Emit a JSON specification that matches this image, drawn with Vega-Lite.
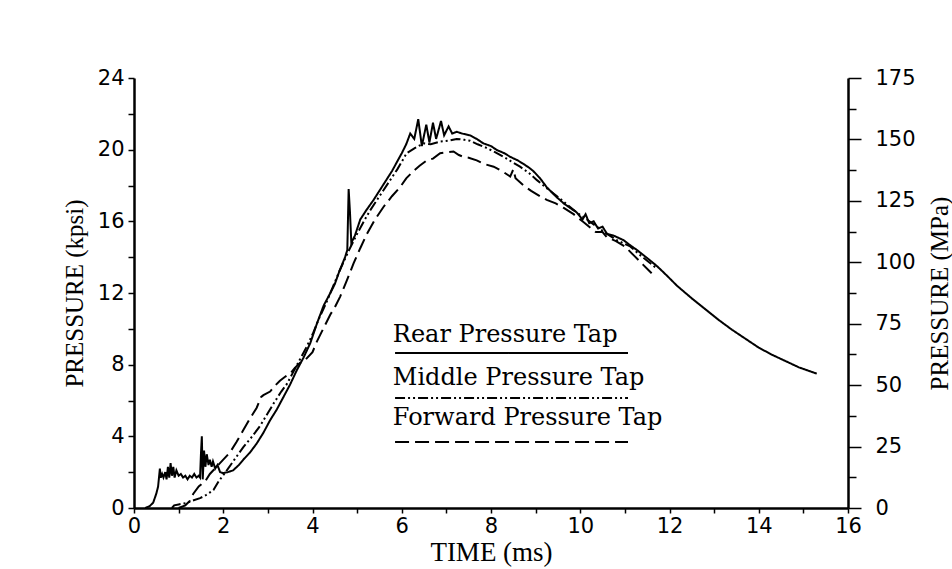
{
  "$schema": "https://vega.github.io/schema/vega-lite/v6.json",
  "width": 714,
  "height": 430,
  "autosize": {"type": "none"},
  "padding": {"left": 134, "top": 78, "right": 104, "bottom": 61},
  "background": "white",
  "config": {
    "view": {"stroke": null},
    "axis": {
      "grid": false,
      "domainColor": "black",
      "tickColor": "black",
      "labelColor": "black",
      "titleColor": "black",
      "labelFont": "DejaVu Sans",
      "labelFontSize": 21,
      "titleFont": "Liberation Serif",
      "titleFontSize": 25,
      "titleFontWeight": "normal",
      "domainWidth": 2.5,
      "tickWidth": 1.5,
      "labelOverlap": false,
      "labelFlush": false
    }
  },
  "datasets": {
    "curves": [
      {"s": "Rear", "t": 0.25, "p": 0},
      {"s": "Rear", "t": 0.35, "p": 0.1},
      {"s": "Rear", "t": 0.43, "p": 0.3},
      {"s": "Rear", "t": 0.5, "p": 0.8},
      {"s": "Rear", "t": 0.54, "p": 1.2},
      {"s": "Rear", "t": 0.58, "p": 2.2},
      {"s": "Rear", "t": 0.6, "p": 1.7},
      {"s": "Rear", "t": 0.63, "p": 1.9},
      {"s": "Rear", "t": 0.66, "p": 1.7},
      {"s": "Rear", "t": 0.7, "p": 2.0},
      {"s": "Rear", "t": 0.73, "p": 1.6},
      {"s": "Rear", "t": 0.76, "p": 2.3},
      {"s": "Rear", "t": 0.79, "p": 1.7},
      {"s": "Rear", "t": 0.82, "p": 2.5},
      {"s": "Rear", "t": 0.85, "p": 1.8},
      {"s": "Rear", "t": 0.88, "p": 2.3},
      {"s": "Rear", "t": 0.91, "p": 1.7},
      {"s": "Rear", "t": 0.95, "p": 2.1},
      {"s": "Rear", "t": 1.0, "p": 1.8},
      {"s": "Rear", "t": 1.05, "p": 1.9},
      {"s": "Rear", "t": 1.1, "p": 1.7},
      {"s": "Rear", "t": 1.15, "p": 1.8},
      {"s": "Rear", "t": 1.2, "p": 1.6},
      {"s": "Rear", "t": 1.25, "p": 1.8},
      {"s": "Rear", "t": 1.3, "p": 1.7},
      {"s": "Rear", "t": 1.35, "p": 1.9},
      {"s": "Rear", "t": 1.4, "p": 1.7},
      {"s": "Rear", "t": 1.45, "p": 1.8},
      {"s": "Rear", "t": 1.48, "p": 1.7},
      {"s": "Rear", "t": 1.5, "p": 3.0},
      {"s": "Rear", "t": 1.52, "p": 4.0},
      {"s": "Rear", "t": 1.54, "p": 1.6},
      {"s": "Rear", "t": 1.57, "p": 3.2},
      {"s": "Rear", "t": 1.6, "p": 2.3},
      {"s": "Rear", "t": 1.63, "p": 3.0},
      {"s": "Rear", "t": 1.67, "p": 2.4},
      {"s": "Rear", "t": 1.7, "p": 2.7},
      {"s": "Rear", "t": 1.74, "p": 2.3},
      {"s": "Rear", "t": 1.77, "p": 2.6},
      {"s": "Rear", "t": 1.82, "p": 2.2},
      {"s": "Rear", "t": 1.87, "p": 2.4},
      {"s": "Rear", "t": 1.93, "p": 2.0},
      {"s": "Rear", "t": 2.0, "p": 1.95},
      {"s": "Rear", "t": 2.1, "p": 2.0},
      {"s": "Rear", "t": 2.22, "p": 2.1},
      {"s": "Rear", "t": 2.35, "p": 2.4},
      {"s": "Rear", "t": 2.45, "p": 2.7},
      {"s": "Rear", "t": 2.6, "p": 3.1},
      {"s": "Rear", "t": 2.75, "p": 3.6},
      {"s": "Rear", "t": 2.9, "p": 4.2},
      {"s": "Rear", "t": 3.05, "p": 4.9},
      {"s": "Rear", "t": 3.2, "p": 5.5},
      {"s": "Rear", "t": 3.35, "p": 6.2},
      {"s": "Rear", "t": 3.5, "p": 6.9},
      {"s": "Rear", "t": 3.65, "p": 7.7},
      {"s": "Rear", "t": 3.8, "p": 8.4},
      {"s": "Rear", "t": 3.95, "p": 9.2},
      {"s": "Rear", "t": 4.1, "p": 10.3},
      {"s": "Rear", "t": 4.25, "p": 11.3},
      {"s": "Rear", "t": 4.4, "p": 12.0},
      {"s": "Rear", "t": 4.5, "p": 12.5},
      {"s": "Rear", "t": 4.6, "p": 13.2},
      {"s": "Rear", "t": 4.73, "p": 14.0},
      {"s": "Rear", "t": 4.78, "p": 14.4},
      {"s": "Rear", "t": 4.81, "p": 17.8},
      {"s": "Rear", "t": 4.84, "p": 16.5},
      {"s": "Rear", "t": 4.87, "p": 14.8},
      {"s": "Rear", "t": 4.95, "p": 15.2},
      {"s": "Rear", "t": 5.07, "p": 16.1},
      {"s": "Rear", "t": 5.2, "p": 16.6},
      {"s": "Rear", "t": 5.37, "p": 17.2},
      {"s": "Rear", "t": 5.55, "p": 17.9},
      {"s": "Rear", "t": 5.78, "p": 18.8},
      {"s": "Rear", "t": 6.0, "p": 19.8},
      {"s": "Rear", "t": 6.1, "p": 20.3},
      {"s": "Rear", "t": 6.19, "p": 20.9},
      {"s": "Rear", "t": 6.28, "p": 20.6},
      {"s": "Rear", "t": 6.37, "p": 21.7},
      {"s": "Rear", "t": 6.45, "p": 20.2},
      {"s": "Rear", "t": 6.55, "p": 21.4},
      {"s": "Rear", "t": 6.62, "p": 20.4},
      {"s": "Rear", "t": 6.7, "p": 21.5},
      {"s": "Rear", "t": 6.77, "p": 20.6},
      {"s": "Rear", "t": 6.88, "p": 21.6},
      {"s": "Rear", "t": 6.95, "p": 20.8},
      {"s": "Rear", "t": 7.05, "p": 21.3},
      {"s": "Rear", "t": 7.13, "p": 20.9},
      {"s": "Rear", "t": 7.23, "p": 21.0},
      {"s": "Rear", "t": 7.35, "p": 20.9},
      {"s": "Rear", "t": 7.53, "p": 20.8},
      {"s": "Rear", "t": 7.68, "p": 20.6},
      {"s": "Rear", "t": 7.83, "p": 20.35},
      {"s": "Rear", "t": 8.0, "p": 20.2},
      {"s": "Rear", "t": 8.13, "p": 19.98},
      {"s": "Rear", "t": 8.3, "p": 19.8},
      {"s": "Rear", "t": 8.43, "p": 19.6},
      {"s": "Rear", "t": 8.6, "p": 19.4},
      {"s": "Rear", "t": 8.73, "p": 19.2},
      {"s": "Rear", "t": 8.85, "p": 19.0},
      {"s": "Rear", "t": 8.95, "p": 18.8},
      {"s": "Rear", "t": 9.1, "p": 18.4},
      {"s": "Rear", "t": 9.25, "p": 17.9},
      {"s": "Rear", "t": 9.45, "p": 17.4},
      {"s": "Rear", "t": 9.63, "p": 17.0},
      {"s": "Rear", "t": 9.8, "p": 16.7},
      {"s": "Rear", "t": 9.92, "p": 16.5},
      {"s": "Rear", "t": 10.05, "p": 16.1},
      {"s": "Rear", "t": 10.12, "p": 16.4},
      {"s": "Rear", "t": 10.2, "p": 15.9},
      {"s": "Rear", "t": 10.3, "p": 16.0},
      {"s": "Rear", "t": 10.4, "p": 15.6},
      {"s": "Rear", "t": 10.5, "p": 15.7},
      {"s": "Rear", "t": 10.6, "p": 15.3},
      {"s": "Rear", "t": 10.75, "p": 15.2},
      {"s": "Rear", "t": 10.97, "p": 14.95},
      {"s": "Rear", "t": 11.1, "p": 14.7},
      {"s": "Rear", "t": 11.27, "p": 14.4},
      {"s": "Rear", "t": 11.5, "p": 13.95},
      {"s": "Rear", "t": 11.72, "p": 13.5},
      {"s": "Rear", "t": 11.95, "p": 12.95},
      {"s": "Rear", "t": 12.17, "p": 12.4},
      {"s": "Rear", "t": 12.5, "p": 11.7},
      {"s": "Rear", "t": 12.8, "p": 11.1},
      {"s": "Rear", "t": 13.1, "p": 10.5},
      {"s": "Rear", "t": 13.4, "p": 9.95},
      {"s": "Rear", "t": 13.7, "p": 9.45},
      {"s": "Rear", "t": 14.0, "p": 8.95},
      {"s": "Rear", "t": 14.3, "p": 8.55},
      {"s": "Rear", "t": 14.6, "p": 8.2},
      {"s": "Rear", "t": 14.9, "p": 7.85},
      {"s": "Rear", "t": 15.3, "p": 7.5},
      {"s": "Middle", "t": 0.85, "p": 0.0},
      {"s": "Middle", "t": 0.9, "p": 0.15},
      {"s": "Middle", "t": 1.0, "p": 0.2},
      {"s": "Middle", "t": 1.18, "p": 0.28},
      {"s": "Middle", "t": 1.3, "p": 0.4},
      {"s": "Middle", "t": 1.48, "p": 0.55},
      {"s": "Middle", "t": 1.6, "p": 0.7},
      {"s": "Middle", "t": 1.78, "p": 1.0},
      {"s": "Middle", "t": 1.9, "p": 1.5},
      {"s": "Middle", "t": 2.08, "p": 2.1},
      {"s": "Middle", "t": 2.25, "p": 2.7},
      {"s": "Middle", "t": 2.45, "p": 3.4},
      {"s": "Middle", "t": 2.65, "p": 4.0},
      {"s": "Middle", "t": 2.83, "p": 4.6},
      {"s": "Middle", "t": 3.0, "p": 5.3},
      {"s": "Middle", "t": 3.12, "p": 5.8},
      {"s": "Middle", "t": 3.3, "p": 6.5},
      {"s": "Middle", "t": 3.42, "p": 6.9},
      {"s": "Middle", "t": 3.55, "p": 7.5},
      {"s": "Middle", "t": 3.72, "p": 8.3},
      {"s": "Middle", "t": 3.87, "p": 9.0},
      {"s": "Middle", "t": 4.02, "p": 9.8},
      {"s": "Middle", "t": 4.15, "p": 10.6},
      {"s": "Middle", "t": 4.3, "p": 11.4},
      {"s": "Middle", "t": 4.45, "p": 12.3},
      {"s": "Middle", "t": 4.6, "p": 13.2},
      {"s": "Middle", "t": 4.8, "p": 14.3},
      {"s": "Middle", "t": 5.0, "p": 15.3},
      {"s": "Middle", "t": 5.15, "p": 16.0},
      {"s": "Middle", "t": 5.29, "p": 16.6},
      {"s": "Middle", "t": 5.5, "p": 17.4},
      {"s": "Middle", "t": 5.74, "p": 18.3},
      {"s": "Middle", "t": 5.9, "p": 18.9},
      {"s": "Middle", "t": 6.11, "p": 19.8},
      {"s": "Middle", "t": 6.3, "p": 20.1},
      {"s": "Middle", "t": 6.49, "p": 20.35},
      {"s": "Middle", "t": 6.65, "p": 20.3},
      {"s": "Middle", "t": 6.86, "p": 20.45},
      {"s": "Middle", "t": 7.05, "p": 20.5},
      {"s": "Middle", "t": 7.23, "p": 20.6},
      {"s": "Middle", "t": 7.4, "p": 20.55},
      {"s": "Middle", "t": 7.53, "p": 20.5},
      {"s": "Middle", "t": 7.7, "p": 20.3},
      {"s": "Middle", "t": 7.9, "p": 20.1},
      {"s": "Middle", "t": 8.1, "p": 19.85},
      {"s": "Middle", "t": 8.28, "p": 19.6},
      {"s": "Middle", "t": 8.45, "p": 19.35},
      {"s": "Middle", "t": 8.65, "p": 19.05},
      {"s": "Middle", "t": 8.85, "p": 18.7},
      {"s": "Middle", "t": 9.03, "p": 18.3},
      {"s": "Middle", "t": 9.25, "p": 17.85},
      {"s": "Middle", "t": 9.48, "p": 17.4},
      {"s": "Middle", "t": 9.7, "p": 16.95},
      {"s": "Middle", "t": 9.92, "p": 16.5},
      {"s": "Middle", "t": 10.15, "p": 16.1},
      {"s": "Middle", "t": 10.37, "p": 15.7},
      {"s": "Middle", "t": 10.6, "p": 15.3},
      {"s": "Middle", "t": 10.82, "p": 14.95},
      {"s": "Middle", "t": 11.12, "p": 14.6},
      {"s": "Middle", "t": 11.3, "p": 14.2},
      {"s": "Middle", "t": 11.5, "p": 13.8},
      {"s": "Middle", "t": 11.7, "p": 13.4},
      {"s": "Forward", "t": 1.0, "p": 0.0},
      {"s": "Forward", "t": 1.15, "p": 0.15},
      {"s": "Forward", "t": 1.25, "p": 0.4},
      {"s": "Forward", "t": 1.33, "p": 0.8},
      {"s": "Forward", "t": 1.45, "p": 1.2},
      {"s": "Forward", "t": 1.6, "p": 1.5},
      {"s": "Forward", "t": 1.7, "p": 1.9},
      {"s": "Forward", "t": 1.85, "p": 2.3},
      {"s": "Forward", "t": 2.0, "p": 2.7},
      {"s": "Forward", "t": 2.15, "p": 3.1},
      {"s": "Forward", "t": 2.3, "p": 3.7},
      {"s": "Forward", "t": 2.45, "p": 4.35},
      {"s": "Forward", "t": 2.6, "p": 5.0},
      {"s": "Forward", "t": 2.75, "p": 5.6},
      {"s": "Forward", "t": 2.85, "p": 6.2},
      {"s": "Forward", "t": 2.9, "p": 6.3},
      {"s": "Forward", "t": 3.05, "p": 6.5},
      {"s": "Forward", "t": 3.15, "p": 6.8},
      {"s": "Forward", "t": 3.27, "p": 7.1},
      {"s": "Forward", "t": 3.4, "p": 7.35},
      {"s": "Forward", "t": 3.5, "p": 7.5},
      {"s": "Forward", "t": 3.6, "p": 7.8},
      {"s": "Forward", "t": 3.72, "p": 8.1},
      {"s": "Forward", "t": 3.85, "p": 8.3},
      {"s": "Forward", "t": 4.0, "p": 8.7},
      {"s": "Forward", "t": 4.1, "p": 9.3},
      {"s": "Forward", "t": 4.2, "p": 9.8},
      {"s": "Forward", "t": 4.3, "p": 10.3},
      {"s": "Forward", "t": 4.4, "p": 10.8},
      {"s": "Forward", "t": 4.5, "p": 11.2},
      {"s": "Forward", "t": 4.62, "p": 11.8},
      {"s": "Forward", "t": 4.77, "p": 12.7},
      {"s": "Forward", "t": 4.92, "p": 13.65},
      {"s": "Forward", "t": 5.07, "p": 14.5},
      {"s": "Forward", "t": 5.22, "p": 15.3},
      {"s": "Forward", "t": 5.4, "p": 16.1},
      {"s": "Forward", "t": 5.59, "p": 16.8},
      {"s": "Forward", "t": 5.78, "p": 17.4},
      {"s": "Forward", "t": 5.96, "p": 17.9},
      {"s": "Forward", "t": 6.1, "p": 18.4},
      {"s": "Forward", "t": 6.26, "p": 18.8},
      {"s": "Forward", "t": 6.4, "p": 19.1},
      {"s": "Forward", "t": 6.56, "p": 19.4},
      {"s": "Forward", "t": 6.7, "p": 19.5},
      {"s": "Forward", "t": 6.86, "p": 19.8},
      {"s": "Forward", "t": 7.0, "p": 19.85},
      {"s": "Forward", "t": 7.16, "p": 19.9},
      {"s": "Forward", "t": 7.28, "p": 19.7},
      {"s": "Forward", "t": 7.38, "p": 19.6},
      {"s": "Forward", "t": 7.5, "p": 19.55},
      {"s": "Forward", "t": 7.68, "p": 19.4},
      {"s": "Forward", "t": 7.85, "p": 19.2},
      {"s": "Forward", "t": 8.06, "p": 19.05},
      {"s": "Forward", "t": 8.25, "p": 18.8},
      {"s": "Forward", "t": 8.43, "p": 18.5},
      {"s": "Forward", "t": 8.5, "p": 18.9},
      {"s": "Forward", "t": 8.55, "p": 18.4},
      {"s": "Forward", "t": 8.73, "p": 18.0},
      {"s": "Forward", "t": 8.9, "p": 17.7},
      {"s": "Forward", "t": 9.1, "p": 17.4},
      {"s": "Forward", "t": 9.25, "p": 17.2},
      {"s": "Forward", "t": 9.45, "p": 17.0},
      {"s": "Forward", "t": 9.63, "p": 16.75},
      {"s": "Forward", "t": 9.85, "p": 16.4},
      {"s": "Forward", "t": 10.05, "p": 16.0},
      {"s": "Forward", "t": 10.2, "p": 15.7},
      {"s": "Forward", "t": 10.35, "p": 15.4},
      {"s": "Forward", "t": 10.5, "p": 15.4},
      {"s": "Forward", "t": 10.6, "p": 15.1},
      {"s": "Forward", "t": 10.8, "p": 14.9},
      {"s": "Forward", "t": 11.0, "p": 14.6},
      {"s": "Forward", "t": 11.2, "p": 14.1},
      {"s": "Forward", "t": 11.4, "p": 13.6},
      {"s": "Forward", "t": 11.6, "p": 13.1}
    ],
    "legend": [
      {"s": "Rear", "label": "Rear Pressure Tap", "tx": 5.8, "ty": 9.27, "lx1": 5.85, "lx2": 11.07, "ly": 8.65},
      {"s": "Middle", "label": "Middle Pressure Tap", "tx": 5.8, "ty": 6.87, "lx1": 5.85, "lx2": 11.07, "ly": 6.14},
      {"s": "Forward", "label": "Forward Pressure Tap", "tx": 5.8, "ty": 4.63, "lx1": 5.85, "lx2": 11.07, "ly": 3.68}
    ]
  },
  "layer": [
    {
      "data": {"name": "curves"},
      "mark": {"type": "line", "color": "black", "strokeWidth": 2},
      "encoding": {
        "x": {
          "field": "t", "type": "quantitative",
          "scale": {"domain": [0, 16], "nice": false},
          "axis": {
            "values": [0,1,2,3,4,5,6,7,8,9,10,11,12,13,14,15,16],
            "labelExpr": "datum.value % 2 === 0 ? datum.label : ''",
            "tickSize": 5,
            "labelPadding": 2,
            "title": "TIME (ms)",
            "titleFontSize": 27,
            "titlePadding": 3
          }
        },
        "y": {
          "field": "p", "type": "quantitative",
          "scale": {"domain": [0, 24], "nice": false},
          "axis": {
            "orient": "left",
            "values": [0,2,4,6,8,10,12,14,16,18,20,22,24],
            "labelExpr": "datum.value % 4 === 0 ? datum.label : ''",
            "tickSize": 6,
            "labelPadding": 4,
            "title": "PRESSURE (kpsi)",
            "titlePadding": 10
          }
        },
        "strokeDash": {
          "field": "s", "type": "nominal",
          "scale": {"domain": ["Rear", "Middle", "Forward"], "range": [[1, 0], [10, 3, 2, 3, 2, 3], [14, 6]]},
          "legend": null
        },
        "detail": {"field": "s"}
      }
    },
    {
      "data": {"name": "legend"},
      "mark": {"type": "text", "align": "left", "baseline": "alphabetic", "font": "DejaVu Serif", "fontSize": 24, "color": "black"},
      "encoding": {
        "x": {"field": "tx", "type": "quantitative", "scale": {"domain": [0, 16], "nice": false}},
        "y": {"field": "ty", "type": "quantitative", "scale": {"domain": [0, 24], "nice": false}, "axis": null},
        "text": {"field": "label"}
      }
    },
    {
      "data": {"name": "legend"},
      "mark": {"type": "rule", "color": "black", "strokeWidth": 2},
      "encoding": {
        "x": {"field": "lx1", "type": "quantitative", "scale": {"domain": [0, 16], "nice": false}},
        "x2": {"field": "lx2"},
        "y": {"field": "ly", "type": "quantitative", "scale": {"domain": [0, 24], "nice": false}, "axis": null},
        "strokeDash": {
          "field": "s", "type": "nominal",
          "scale": {"domain": ["Rear", "Middle", "Forward"], "range": [[1, 0], [10, 3, 2, 3, 2, 3], [14, 6]]},
          "legend": null
        }
      }
    },
    {
      "data": {"values": [{}]},
      "mark": {"type": "rule", "opacity": 0},
      "encoding": {
        "y": {
          "datum": 0, "type": "quantitative",
          "scale": {"domain": [0, 175], "nice": false},
          "axis": {
            "orient": "right",
            "values": [0,12.5,25,37.5,50,62.5,75,87.5,100,112.5,125,137.5,150,162.5,175],
            "labelExpr": "datum.value % 25 === 0 ? datum.label : ''",
            "tickSize": {"condition": {"test": "datum.value % 25 === 0", "value": 13}, "value": 8},
            "labelPadding": 14,
            "title": "PRESSURE (MPa)",
            "titleAngle": 270,
            "titleBaseline": "top",
            "titlePadding": 12
          }
        }
      }
    }
  ],
  "resolve": {"scale": {"y": "independent"}}
}
